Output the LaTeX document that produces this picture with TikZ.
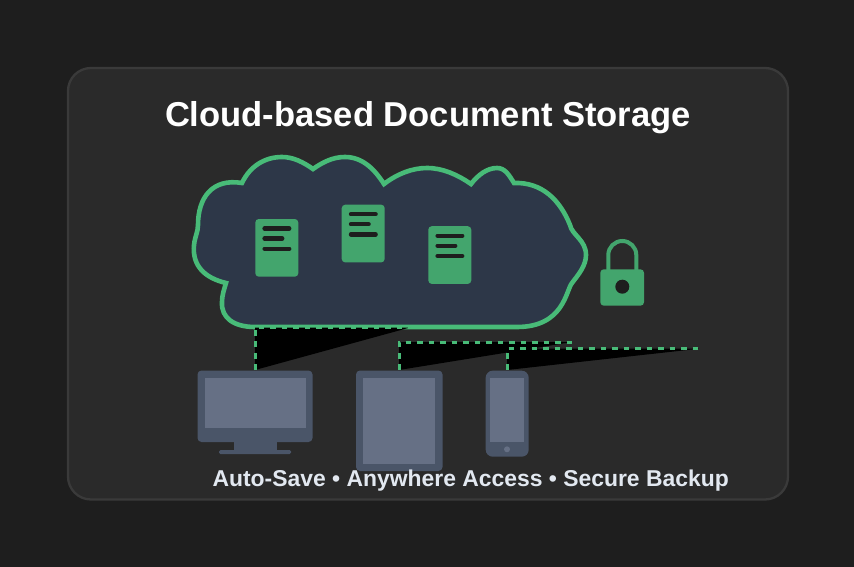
\documentclass[tikz,border=0pt]{standalone}
\usepackage{fontspec}
\setmainfont{Liberation Sans}
\definecolor{pagebg}{HTML}{1E1E1E}
\definecolor{cardbg}{HTML}{2A2A2A}
\definecolor{cardline}{HTML}{3A3A3A}
\definecolor{cloudfill}{HTML}{2D3748}
\definecolor{accent}{HTML}{48BB78}
\definecolor{docgreen}{HTML}{43A56D}
\definecolor{devouter}{HTML}{4A5568}
\definecolor{devinner}{HTML}{667085}
\definecolor{subtext}{HTML}{E2E8F0}
\definecolor{lineink}{HTML}{1E1E1E}
\tikzset{
  card/.style={fill=cardbg,draw=cardline,line width=2.3pt,rounded corners=23pt},
  cloudshape/.style={fill=cloudfill,draw=accent,line width=4.6pt,line join=miter},
  docbody/.style={fill=docgreen,rounded corners=3.5pt},
  docline/.style={draw=lineink,line width=4.4pt,line cap=round},
  devbody/.style={fill=devouter,rounded corners=4pt},
  devscreen/.style={fill=devinner},
  link/.style={draw=accent,line width=3pt,dash pattern=on 5.75pt off 5.75pt},
  titletext/.style={text=white,font=\fontsize{34.55}{40}\selectfont\bfseries,inner sep=0pt,anchor=base},
  captext/.style={text=subtext,font=\fontsize{22.9}{27}\selectfont\bfseries,inner sep=0pt,anchor=base}
}
\newcommand{\docicon}[2]{%
  \begin{scope}[shift={(#1,#2)}]
    \fill[docbody] (0,0) rectangle (43,57.7);
    \draw[docline] (9.3,9.5) -- (33.9,9.5);
    \draw[docline] (9.3,19.5) -- (26.9,19.5);
    \draw[docline] (9.3,29.7) -- (33.9,29.7);
  \end{scope}}
\begin{document}
\begin{tikzpicture}[x=1pt,y=-1pt]
\useasboundingbox (0,0) rectangle (854,567);
\fill[pagebg] (0,0) rectangle (854,567);
\draw[card] (68,68) rectangle (788,499.5);

% cloud
\draw[cloudshape] (255,327)
  .. controls (234,327) and (221,318) .. (222,302)
  .. controls (222,295) and (224,290) .. (226,283)
  .. controls (205,278) and (192,266) .. (194,245)
  .. controls (195,236) and (198,232) .. (198,225)
  .. controls (198,198) and (212,178) .. (242,183)
  .. controls (250,166) and (265,157) .. (282,157)
  .. controls (293,157) and (303,162) .. (313,169)
  .. controls (323,162) and (333,157) .. (345,157)
  .. controls (363,157) and (375,170) .. (384,184)
  .. controls (397,174) and (412,168) .. (427,168)
  .. controls (443,168) and (458,175) .. (471,184)
  .. controls (478,175) and (487,168) .. (497,168)
  .. controls (505,168) and (509,175) .. (514,183)
  .. controls (542,182) and (560,200) .. (570,225)
  .. controls (572,235) and (586,240) .. (586,255)
  .. controls (586,266) and (578,275) .. (572,283)
  .. controls (566,290) and (564,327) .. (517,327)
  -- cycle;

% documents
\docicon{255.3}{219}
\docicon{341.7}{204.7}
\docicon{428.3}{226.2}

% lock
\draw[draw=docgreen,line width=4pt] (608.3,270) -- (608.3,255) arc[start angle=180,end angle=360,radius=14] -- (636.3,270);
\fill[docbody] (600.3,269.3) rectangle (644,305.7);
\fill[lineink] (622.3,286.7) circle[radius=7];

% connectors
\coordinate (deskA) at (255,370);
\coordinate (deskB) at (255,327.5);
\coordinate (deskC) at (410,327.5);
\coordinate (tabA) at (399,370);
\coordinate (tabB) at (399,342);
\coordinate (tabC) at (572,342);
\coordinate (phoA) at (507,370);
\coordinate (phoB) at (507,348.7);
\coordinate (phoC) at (699,348.7);
\path[fill=black] (deskA) -- (deskB) -- (deskC) -- cycle;
\path[fill=black] (tabA) -- (tabB) -- (tabC) -- cycle;
\path[fill=black] (phoA) -- (phoB) -- (phoC) -- cycle;
\draw[link] (deskA) -- (deskB) -- (deskC);
\draw[link] (tabA) -- (tabB) -- (tabC);
\draw[link] (phoA) -- (phoB) -- (phoC);

% monitor
\fill[devbody] (197.5,370.5) rectangle (312.5,442);
\fill[devscreen] (204.5,377.5) rectangle (305.5,427.5);
\fill[devouter] (233.5,442) rectangle (277,450);
\fill[devouter,rounded corners=1.5pt] (219,450) rectangle (291,454);

% tablet
\fill[devbody] (356,370.5) rectangle (442.5,471);
\fill[devscreen] (363,377.5) rectangle (435,464);

% phone
\fill[devouter,rounded corners=7pt] (485.7,370.7) rectangle (528.7,456.7);
\fill[devscreen] (490,377.7) rectangle (524.3,442.3);
\fill[devinner] (507,449.3) circle[radius=3];

% text
\node[titletext] (title) at (428,126.3) {Cloud-based Document Storage};
\node[captext] (caption) at (470.7,486) {Auto-Save • Anywhere Access • Secure Backup};
\end{tikzpicture}
\end{document}
